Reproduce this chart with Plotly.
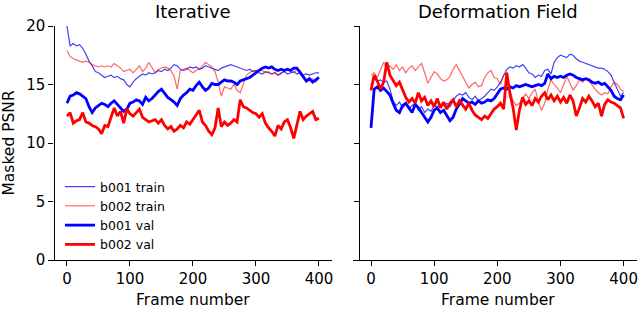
import plotly.graph_objects as go

frames = list(range(0, 401, 5))

# Iterative panel
iter_b001_train = [20.0, 18.3, 18.5, 18.3, 18.4, 18.1, 17.6, 17.0, 16.6, 16.1, 16.0, 15.8, 15.6, 15.7, 15.8, 15.6,
                   15.7, 15.5, 15.4, 15.0, 14.8, 15.2, 15.5, 15.7, 15.9, 15.8, 16.0, 15.9, 16.0, 16.2, 16.1, 16.3,
                   16.2, 16.4, 16.7, 16.6, 16.3, 16.2, 16.3, 16.5, 16.4, 16.5, 16.3, 16.4, 16.6, 16.5, 16.4, 16.3,
                   16.2, 16.4, 16.5, 16.6, 16.7, 16.6, 16.5, 16.4, 16.3, 16.2, 16.3, 16.1, 16.2, 16.0, 15.9, 16.1,
                   16.0, 15.9, 16.0, 15.8, 16.0, 16.1, 15.9, 16.0, 16.1, 15.9, 16.0, 15.8, 15.9, 15.8, 15.9, 16.0, 16.0]
iter_b002_train = [17.9, 17.4, 17.2, 17.1, 17.0, 16.9, 17.0, 16.9, 16.7, 16.6, 16.5, 16.6, 16.5, 16.6, 16.5, 16.8,
                   16.6, 16.4, 16.1, 16.2, 16.3, 16.0, 16.3, 16.6, 16.1, 16.4, 16.9, 16.5, 16.0, 16.3, 16.4, 16.5,
                   16.4, 16.2, 15.7, 14.6, 16.2, 16.3, 16.4, 16.2, 16.0, 16.2, 16.3, 16.6, 16.9, 16.7, 16.5, 16.1,
                   15.2, 14.0, 14.8, 14.7, 14.6, 15.0, 14.5, 14.3, 15.0, 15.8, 16.0, 16.2, 16.1, 16.3, 16.2, 16.0,
                   16.1, 15.9, 16.0, 15.8, 15.9, 16.2, 16.3, 16.1, 16.0, 16.3, 16.2, 15.8, 15.2, 15.4, 15.5, 15.2, 15.6]
iter_b001_val = [13.4, 14.0, 14.1, 14.3, 14.2, 14.0, 13.8, 13.1, 12.6, 13.0, 13.2, 13.4, 13.3, 13.1, 13.4, 13.6,
                 13.3, 13.0, 12.7, 12.9, 13.4, 13.5, 13.7, 13.6, 13.3, 13.9, 13.6, 13.8, 14.1, 14.4, 14.6, 14.2,
                 13.9, 13.7, 13.5, 13.2, 13.8, 14.1, 14.3, 14.6, 14.5, 14.9, 15.2, 14.8, 14.5, 14.7, 15.1, 15.0,
                 15.0, 15.2, 15.4, 15.3, 15.3, 15.2, 15.0, 15.3, 15.4, 15.5, 15.6, 15.8, 16.0, 16.2, 16.4, 16.5,
                 16.4, 16.5, 16.3, 16.2, 16.3, 16.2, 16.3, 16.2, 16.4, 16.4, 16.0, 15.6, 15.3, 15.5, 15.2, 15.4, 15.6]
iter_b002_val = [12.3, 12.6, 11.7, 11.9, 12.0, 12.6, 11.8, 11.7, 11.5, 11.4, 11.2, 10.8, 11.5, 11.4, 12.2, 13.0,
                 12.3, 12.7, 11.7, 12.9, 12.5, 12.3, 12.6, 12.9, 12.2, 12.0, 11.8, 11.9, 12.0, 11.7, 12.0, 11.5,
                 11.2, 11.4, 11.0, 11.2, 11.5, 11.3, 11.8, 11.6, 12.0, 12.4, 12.8, 11.8, 11.5, 11.0, 10.7, 11.3,
                 13.0, 11.4, 11.8, 11.5, 11.7, 12.0, 11.8, 13.7, 13.1, 13.0, 12.8, 12.6, 12.5, 12.2, 12.5, 11.7,
                 11.3, 11.0, 10.6, 11.5, 11.2, 11.8, 12.0, 11.3, 10.4, 11.5, 12.7, 12.0, 12.3, 12.5, 12.7, 12.0, 12.1]

# Deformation Field panel
def_b001_train = [15.0, 15.5, 15.3, 15.4, 15.2, 15.3, 14.6, 13.6, 13.2, 13.5, 13.0, 13.3, 12.9, 13.2, 13.4, 12.8,
                  13.1, 12.6, 12.9, 12.7, 13.2, 13.1, 13.3, 13.2, 13.4, 13.1, 13.6, 14.0, 14.2, 14.1, 14.3, 13.9,
                  13.7, 14.0, 13.6, 13.8, 14.0, 14.3, 14.6, 14.5, 14.8, 15.2, 15.8, 16.3, 16.5, 16.4, 16.6, 16.5,
                  16.7, 16.4, 16.0, 15.9, 15.6, 15.8, 15.7, 16.2, 16.3, 15.9, 16.9, 17.3, 17.5, 17.4, 17.3, 17.6,
                  17.5, 17.2, 17.0, 16.9, 16.8, 16.7, 16.6, 16.5, 16.4, 16.4, 16.3, 16.1, 15.8, 15.2, 14.6, 14.0, 14.3]
def_b002_train = [15.8, 16.0, 15.6, 16.2, 16.9, 16.4, 16.6, 16.3, 16.7, 16.2, 16.5, 16.0, 16.4, 16.6, 16.2, 16.5,
                  16.8, 16.0, 15.1, 15.6, 16.1, 15.9, 15.5, 15.3, 15.4, 15.7, 16.3, 16.7, 16.2, 15.8, 15.3, 14.7,
                  15.0, 15.2, 14.8, 14.9, 15.6, 16.0, 16.2, 15.6, 15.5, 15.0, 15.8, 16.0, 14.5, 13.6, 13.2, 13.4,
                  13.8, 14.2, 13.8, 14.3, 14.6, 13.5, 12.8, 13.4, 14.6, 15.4, 15.0, 14.7, 14.3, 15.0, 15.7, 15.1,
                  14.5, 14.9, 15.4, 15.2, 15.5, 15.3, 14.9, 14.6, 14.3, 14.1, 14.3, 14.2, 14.8, 15.2, 15.0, 14.6, 14.4]
def_b001_val = [11.3, 14.6, 14.8, 14.5, 14.7, 14.4, 14.1, 13.4, 12.8, 12.6, 13.2, 13.4, 13.0, 12.6, 13.3, 13.0,
                12.6, 12.2, 11.8, 12.2, 12.8, 13.0, 12.6, 12.8, 12.4, 11.9, 12.2, 12.9, 13.3, 13.8, 13.6, 13.4,
                13.5, 13.3, 13.6, 13.4, 13.5, 13.7, 13.6, 13.8, 14.2, 14.6, 14.7, 14.6, 14.8, 14.7, 14.9, 14.8,
                14.9, 15.0, 14.9, 14.8, 14.9, 15.0, 14.9, 15.1, 15.9, 15.5, 15.7, 15.6, 15.7, 15.6, 15.8, 15.9,
                15.8, 15.6, 15.5, 15.4, 15.5, 15.4, 15.2, 15.1, 15.2, 15.0, 15.1, 14.8, 14.5, 14.0, 13.8, 13.7, 14.1]
def_b002_val = [14.5, 15.8, 15.3, 14.6, 15.2, 16.9, 15.8, 15.3, 14.9, 15.2, 14.6, 13.9, 13.5, 13.8, 13.4, 14.3,
                13.6, 13.9, 13.2, 13.6, 13.1, 13.8, 13.0, 13.5, 12.9, 13.4, 13.7, 13.1, 13.6, 13.2, 12.9, 13.4,
                12.8, 12.4, 12.2, 12.0, 12.3, 12.1, 12.5, 12.9, 13.1, 13.4, 12.9, 16.0, 14.2, 13.0, 11.1, 12.8,
                13.9, 13.3, 13.6, 13.2, 13.8, 13.5, 14.0, 14.3, 13.7, 14.1, 13.6, 14.0, 13.5, 13.9, 13.4, 14.1,
                13.6, 12.3, 13.0, 13.8, 13.5, 14.0, 13.6, 13.1, 13.4, 12.3, 13.3, 13.7, 13.5, 13.4, 13.2, 13.0, 12.1]

labels = ["b001 train", "b002 train", "b001 val", "b002 val"]
colors = ["rgba(0,0,255,0.75)", "rgba(255,0,0,0.6)", "rgb(0,0,255)", "rgb(255,0,0)"]
widths = [1.2, 1.2, 2.8, 2.8]

panels = [
    ([iter_b001_train, iter_b002_train, iter_b001_val, iter_b002_val], "x", "y", True),
    ([def_b001_train, def_b002_train, def_b001_val, def_b002_val], "x2", "y2", False),
]

FONT = "DejaVu Sans"
fig = go.Figure()
for series, xa, ya, show in panels:
    for s, lab, c, w in zip(series, labels, colors, widths):
        fig.add_trace(go.Scatter(x=frames, y=s, mode="lines", name=lab,
                                 line=dict(color=c, width=w), xaxis=xa, yaxis=ya,
                                 showlegend=show))

W, H = 640, 309
ytop, ybot = 26, 260
ydom = [(H - ybot) / H, (H - ytop) / H]

common_x = dict(range=[-28.5, 420.7], showline=True, linecolor="black", linewidth=1.2,
                ticks="outside", ticklen=5, tickwidth=1.2, tickcolor="black",
                tickvals=[0, 100, 200, 300, 400], showgrid=False, zeroline=False,
                tickfont=dict(family=FONT, size=15, color="black"))
common_y = dict(range=[0, 20], showline=True, linecolor="black", linewidth=1.2,
                ticks="outside", ticklen=5, tickwidth=1.2, tickcolor="black",
                tickvals=[0, 5, 10, 15, 20], showgrid=False, zeroline=False, domain=ydom,
                tickfont=dict(family=FONT, size=15, color="black"), anchor="free")

fig.update_layout(
    width=W, height=H,
    margin=dict(l=0, r=0, t=0, b=0, autoexpand=False),
    paper_bgcolor="white", plot_bgcolor="white",
    font=dict(family=FONT, size=15, color="black"),
    xaxis=dict(domain=[49 / W, 332 / W], anchor="y", **common_x),
    xaxis2=dict(domain=[353 / W, 636.7 / W], anchor="y2", **common_x),
    yaxis=dict(position=53.5 / W, **common_y),
    yaxis2=dict(position=359 / W, showticklabels=False, **common_y),
    legend=dict(x=60 / W, y=1 - 172 / H, xanchor="left", yanchor="top",
                bgcolor="rgba(0,0,0,0)", borderwidth=0,
                font=dict(family=FONT, size=12.5, color="black")),
    annotations=[
        dict(text="Iterative", x=193 / W, y=1 - 12 / H, xref="paper", yref="paper",
             showarrow=False, font=dict(family=FONT, size=18), xanchor="center", yanchor="middle"),
        dict(text="Deformation Field", x=498 / W, y=1 - 12 / H, xref="paper", yref="paper",
             showarrow=False, font=dict(family=FONT, size=18), xanchor="center", yanchor="middle"),
        dict(text="Frame number", x=193 / W, y=1 - 300 / H, xref="paper", yref="paper",
             showarrow=False, font=dict(family=FONT, size=15.5), xanchor="center", yanchor="middle"),
        dict(text="Frame number", x=498 / W, y=1 - 300 / H, xref="paper", yref="paper",
             showarrow=False, font=dict(family=FONT, size=15.5), xanchor="center", yanchor="middle"),
        dict(text="Masked PSNR", x=8.5 / W, y=1 - 143 / H, xref="paper", yref="paper",
             showarrow=False, font=dict(family=FONT, size=15.5), textangle=-90,
             xanchor="center", yanchor="middle"),
    ],
)

fig.write_html("out.html", config={"displayModeBar": False},
               post_script="document.body.style.margin='0';document.body.style.overflow='hidden';")
